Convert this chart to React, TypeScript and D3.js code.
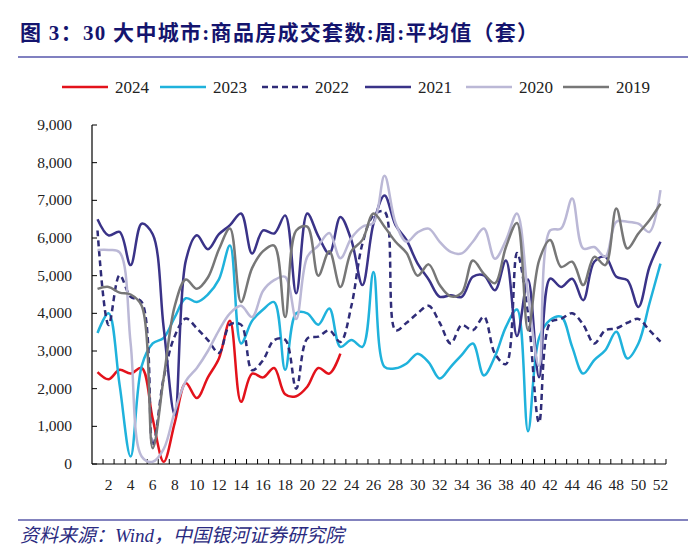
import React from "react";
import * as d3 from "d3";

const weeks: number[] = Array.from({ length: 52 }, (_, i) => i + 1);
const xTickLabels: number[] = [2, 4, 6, 8, 10, 12, 14, 16, 18, 20, 22, 24, 26, 28, 30, 32, 34, 36, 38, 40, 42, 44, 46, 48, 50, 52];
const yTicks: number[] = [0, 1000, 2000, 3000, 4000, 5000, 6000, 7000, 8000, 9000];

const s2024: number[] = [2440, 2250, 2500, 2400, 2550, 1200, 60, 1100, 2150, 1750, 2300, 2800, 3800, 1650, 2400, 2300, 2550, 1850, 1800, 2050, 2550, 2400, 2930];
const s2023: number[] = [3480, 4000, 2100, 200, 2600, 3200, 3350, 3900, 4400, 4300, 4500, 4900, 5800, 3200, 3800, 4100, 4300, 2500, 4000, 4000, 3700, 4130, 3110, 3290, 3110, 5100, 2580, 2540, 2670, 2930, 2700, 2270, 2580, 2900, 3200, 2350, 2850, 3640, 4100, 870, 3350, 3820, 3910, 3110, 2400, 2760, 3020, 3510, 2800, 3200, 4260, 5320];
const s2022: number[] = [6200, 3690, 5010, 4440, 4300, 480, 2300, 3400, 3860, 3600, 3290, 2950, 3700, 3700, 2490, 2760, 3290, 3300, 2000, 3330, 3380, 3550, 3240, 4200, 5850, 6600, 6700, 3550, 3750, 4000, 4200, 3750, 3200, 3690, 3550, 3910, 2930, 2650, 5600, 4000, 1100, 3750, 3850, 4000, 3700, 3200, 3550, 3600, 3750, 3850, 3550, 3250];
const s2021: number[] = [6500, 6070, 6160, 5280, 6380, 6100, 3600, 1300, 5400, 6070, 5700, 6100, 6340, 6650, 5590, 6200, 6120, 6600, 4530, 6650, 6050, 5590, 6560, 5940, 4750, 6380, 7130, 6340, 5940, 5320, 4900, 4440, 4480, 4440, 4970, 5010, 4610, 5400, 3400, 4900, 2300, 4920, 4700, 4920, 4350, 5370, 5500, 4970, 4880, 4170, 5230, 5900];
const s2020: number[] = [5680, 5680, 5620, 3200, 200, 60, 400, 1400, 2200, 2550, 3000, 3550, 4000, 4200, 3900, 4600, 4880, 4970, 3850, 5500, 5800, 6130, 5460, 6000, 6300, 6400, 7650, 6400, 5900, 6150, 6250, 5900, 5630, 5590, 5900, 6250, 5450, 5940, 6650, 4500, 2600, 6200, 6250, 7050, 5720, 5760, 5500, 6430, 6430, 6380, 6160, 7270];
const s2019: number[] = [4650, 4700, 4550, 4500, 4200, 420, 2300, 4200, 4900, 4650, 4950, 5700, 6250, 4300, 5200, 5650, 5800, 3900, 6200, 6300, 5000, 5650, 4700, 5650, 5950, 6650, 6300, 5900, 5600, 5000, 5300, 4750, 4450, 4550, 5400, 5050, 4800, 5760, 6400, 3550, 5400, 5950, 5230, 5370, 4750, 5500, 5280, 6780, 5720, 6120, 6470, 6910];

const seriesNames: string[] = ["2024", "2023", "2022", "2021", "2020", "2019"];
const seriesData: number[][] = [s2024, s2023, s2022, s2021, s2020, s2019];
const seriesColors: string[] = ["#e3121b", "#1fb2dc", "#2f2c78", "#3a3388", "#bbb8d6", "#777777"];
const seriesDash: (string | undefined)[] = [undefined, undefined, "6,4", undefined, undefined, undefined];
const legendX: number[] = [62, 160, 262, 365, 466, 563];

export default function App() {
  const x = d3.scaleLinear().domain([0, 52]).range([92, 666]);
  const y = d3.scaleLinear().domain([0, 9000]).range([464, 125]);
  const line = d3
    .line<number>()
    .x((_, i) => x(i + 0.5))
    .y((d) => y(d))
    .curve(d3.curveCatmullRom.alpha(0.5));

  const serif = "'Liberation Serif', 'Times New Roman', 'Noto Sans CJK SC', serif";
  const drawOrder = [0, 1, 2, 3, 4, 5];

  return (
    <div style={{ position: "absolute", left: 0, top: 0 }}>
      <svg width={700} height={555} style={{ display: "block", background: "#fff" }}>
        <text x={20} y={40} fontFamily={serif} fontWeight="bold" fontSize={21} letterSpacing={1.3} fill="#14146e">
          图 3：30 大中城市:商品房成交套数:周:平均值（套）
        </text>
        <line x1={18} x2={688} y1={57} y2={57} stroke="#8080c0" strokeWidth={2} />

        {/* legend */}
        {seriesNames.map((n, k) => (
          <g key={n}>
            <line
              x1={legendX[k]}
              x2={legendX[k] + 46}
              y1={87}
              y2={87}
              stroke={seriesColors[k]}
              strokeWidth={2.5}
              strokeDasharray={seriesDash[k]}
            />
            <text x={legendX[k] + 53} y={93} fontFamily={serif} fontSize={17} fill="#222">
              {n}
            </text>
          </g>
        ))}

        {/* axes */}
        <line x1={92} x2={92} y1={125} y2={464} stroke="#000" strokeWidth={1.2} />
        <line x1={92} x2={666} y1={464} y2={464} stroke="#000" strokeWidth={1.2} />
        {yTicks.map((t) => (
          <g key={t}>
            <line x1={92} x2={97} y1={y(t)} y2={y(t)} stroke="#000" strokeWidth={1} />
            <text x={72} y={y(t) + 5} textAnchor="end" fontFamily={serif} fontSize={15.5} fill="#222">
              {d3.format(",")(t)}
            </text>
          </g>
        ))}
        {weeks.map((w) => (
          <line key={w} x1={x(w)} x2={x(w)} y1={464} y2={459} stroke="#000" strokeWidth={1} />
        ))}
        {xTickLabels.map((w) => (
          <text key={w} x={x(w - 0.5)} y={490} textAnchor="middle" fontFamily={serif} fontSize={15.5} fill="#222">
            {w}
          </text>
        ))}

        {/* series */}
        {drawOrder.map((k) => (
          <path
            key={k}
            d={line(seriesData[k]) || ""}
            fill="none"
            stroke={seriesColors[k]}
            strokeWidth={2.5}
            strokeDasharray={seriesDash[k]}
            strokeLinejoin="round"
          />
        ))}

        <line x1={18} x2={688} y1={520} y2={520} stroke="#5a5aa8" strokeWidth={1.5} />
        <text x={20} y={542} fontFamily={serif} fontStyle="italic" fontSize={19} fill="#2a2a80">
          资料来源：Wind，中国银河证券研究院
        </text>
      </svg>
    </div>
  );
}
